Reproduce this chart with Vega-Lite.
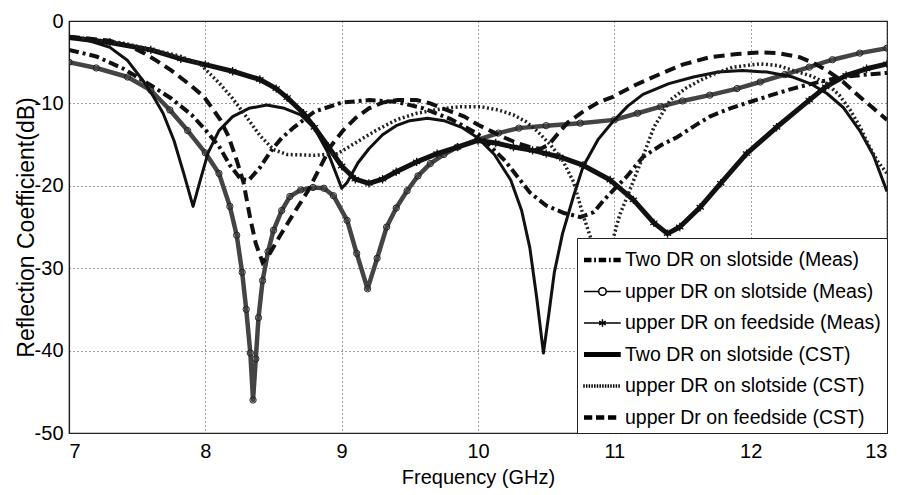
{
  "$schema": "https://vega.github.io/schema/vega-lite/v6.json",
  "width": 818,
  "height": 412,
  "autosize": {"type": "none"},
  "padding": {"left": 69, "top": 21, "right": 14, "bottom": 62},
  "background": "white",
  "config": {
    "font": "Liberation Sans",
    "view": {"stroke": "#222", "strokeWidth": 1.2},
    "axis": {
      "labelFont": "Liberation Sans",
      "titleFont": "Liberation Sans",
      "labelFontSize": 20,
      "titleFontSize": 20,
      "titleFontWeight": "normal",
      "labelColor": "black",
      "titleColor": "black",
      "grid": true,
      "gridColor": "#111",
      "gridDash": [1, 3],
      "gridOpacity": 0.85,
      "domainColor": "#222",
      "domainWidth": 1.2,
      "ticks": false
    }
  },
  "data": {
    "values": [
      {"s": "Two DR on slotside (Meas)", "f": 7.0, "db": -3.5},
      {"s": "Two DR on slotside (Meas)", "f": 7.2, "db": -4.3},
      {"s": "Two DR on slotside (Meas)", "f": 7.4, "db": -5.8},
      {"s": "Two DR on slotside (Meas)", "f": 7.6, "db": -7.8},
      {"s": "Two DR on slotside (Meas)", "f": 7.75, "db": -9.4},
      {"s": "Two DR on slotside (Meas)", "f": 7.9, "db": -11.4},
      {"s": "Two DR on slotside (Meas)", "f": 8.0, "db": -13.2},
      {"s": "Two DR on slotside (Meas)", "f": 8.1, "db": -15.2},
      {"s": "Two DR on slotside (Meas)", "f": 8.18, "db": -17.5},
      {"s": "Two DR on slotside (Meas)", "f": 8.26, "db": -19.2},
      {"s": "Two DR on slotside (Meas)", "f": 8.32, "db": -19.3},
      {"s": "Two DR on slotside (Meas)", "f": 8.4, "db": -17.8},
      {"s": "Two DR on slotside (Meas)", "f": 8.48, "db": -15.8},
      {"s": "Two DR on slotside (Meas)", "f": 8.56, "db": -14.2},
      {"s": "Two DR on slotside (Meas)", "f": 8.65, "db": -12.9},
      {"s": "Two DR on slotside (Meas)", "f": 8.8, "db": -11.0},
      {"s": "Two DR on slotside (Meas)", "f": 9.0, "db": -9.9},
      {"s": "Two DR on slotside (Meas)", "f": 9.2, "db": -9.6},
      {"s": "Two DR on slotside (Meas)", "f": 9.4, "db": -9.8},
      {"s": "Two DR on slotside (Meas)", "f": 9.6, "db": -10.6},
      {"s": "Two DR on slotside (Meas)", "f": 9.8, "db": -11.9},
      {"s": "Two DR on slotside (Meas)", "f": 10.0, "db": -13.7},
      {"s": "Two DR on slotside (Meas)", "f": 10.2, "db": -17.0},
      {"s": "Two DR on slotside (Meas)", "f": 10.38, "db": -20.8},
      {"s": "Two DR on slotside (Meas)", "f": 10.5, "db": -22.4},
      {"s": "Two DR on slotside (Meas)", "f": 10.63, "db": -23.3},
      {"s": "Two DR on slotside (Meas)", "f": 10.75, "db": -23.8},
      {"s": "Two DR on slotside (Meas)", "f": 10.85, "db": -23.2},
      {"s": "Two DR on slotside (Meas)", "f": 10.92, "db": -21.8},
      {"s": "Two DR on slotside (Meas)", "f": 11.0, "db": -20.4},
      {"s": "Two DR on slotside (Meas)", "f": 11.09, "db": -18.9},
      {"s": "Two DR on slotside (Meas)", "f": 11.21, "db": -16.5},
      {"s": "Two DR on slotside (Meas)", "f": 11.35, "db": -15.0},
      {"s": "Two DR on slotside (Meas)", "f": 11.46, "db": -14.1},
      {"s": "Two DR on slotside (Meas)", "f": 11.6, "db": -12.6},
      {"s": "Two DR on slotside (Meas)", "f": 11.7, "db": -11.6},
      {"s": "Two DR on slotside (Meas)", "f": 11.85, "db": -10.6},
      {"s": "Two DR on slotside (Meas)", "f": 12.0, "db": -9.8},
      {"s": "Two DR on slotside (Meas)", "f": 12.15, "db": -9.0},
      {"s": "Two DR on slotside (Meas)", "f": 12.31, "db": -8.2},
      {"s": "Two DR on slotside (Meas)", "f": 12.5, "db": -7.4},
      {"s": "Two DR on slotside (Meas)", "f": 12.67, "db": -6.8},
      {"s": "Two DR on slotside (Meas)", "f": 12.85, "db": -6.5},
      {"s": "Two DR on slotside (Meas)", "f": 13.0, "db": -6.3},

      {"s": "upper DR on slotside (Meas)", "f": 7.0, "db": -5.0},
      {"s": "upper DR on slotside (Meas)", "f": 7.2, "db": -5.7},
      {"s": "upper DR on slotside (Meas)", "f": 7.43, "db": -6.8},
      {"s": "upper DR on slotside (Meas)", "f": 7.6, "db": -8.4},
      {"s": "upper DR on slotside (Meas)", "f": 7.74, "db": -10.8},
      {"s": "upper DR on slotside (Meas)", "f": 7.87, "db": -13.3},
      {"s": "upper DR on slotside (Meas)", "f": 8.0, "db": -16.0},
      {"s": "upper DR on slotside (Meas)", "f": 8.1, "db": -18.5},
      {"s": "upper DR on slotside (Meas)", "f": 8.18, "db": -22.5},
      {"s": "upper DR on slotside (Meas)", "f": 8.23, "db": -26.0},
      {"s": "upper DR on slotside (Meas)", "f": 8.27, "db": -30.5},
      {"s": "upper DR on slotside (Meas)", "f": 8.3, "db": -35.0},
      {"s": "upper DR on slotside (Meas)", "f": 8.33, "db": -40.3},
      {"s": "upper DR on slotside (Meas)", "f": 8.35, "db": -46.0},
      {"s": "upper DR on slotside (Meas)", "f": 8.37, "db": -41.0},
      {"s": "upper DR on slotside (Meas)", "f": 8.39, "db": -36.0},
      {"s": "upper DR on slotside (Meas)", "f": 8.42, "db": -31.5},
      {"s": "upper DR on slotside (Meas)", "f": 8.46, "db": -28.0},
      {"s": "upper DR on slotside (Meas)", "f": 8.5, "db": -25.4},
      {"s": "upper DR on slotside (Meas)", "f": 8.56, "db": -23.0},
      {"s": "upper DR on slotside (Meas)", "f": 8.62, "db": -21.3},
      {"s": "upper DR on slotside (Meas)", "f": 8.7, "db": -20.5},
      {"s": "upper DR on slotside (Meas)", "f": 8.79, "db": -20.2},
      {"s": "upper DR on slotside (Meas)", "f": 8.87, "db": -20.3},
      {"s": "upper DR on slotside (Meas)", "f": 8.94, "db": -21.2},
      {"s": "upper DR on slotside (Meas)", "f": 9.04, "db": -24.2},
      {"s": "upper DR on slotside (Meas)", "f": 9.11, "db": -28.2},
      {"s": "upper DR on slotside (Meas)", "f": 9.19, "db": -32.5},
      {"s": "upper DR on slotside (Meas)", "f": 9.26, "db": -28.8},
      {"s": "upper DR on slotside (Meas)", "f": 9.33, "db": -25.0},
      {"s": "upper DR on slotside (Meas)", "f": 9.4, "db": -22.7},
      {"s": "upper DR on slotside (Meas)", "f": 9.48, "db": -20.6},
      {"s": "upper DR on slotside (Meas)", "f": 9.56, "db": -18.8},
      {"s": "upper DR on slotside (Meas)", "f": 9.65, "db": -17.3},
      {"s": "upper DR on slotside (Meas)", "f": 9.75, "db": -16.2},
      {"s": "upper DR on slotside (Meas)", "f": 9.85, "db": -15.3},
      {"s": "upper DR on slotside (Meas)", "f": 10.0, "db": -14.4},
      {"s": "upper DR on slotside (Meas)", "f": 10.15, "db": -13.6},
      {"s": "upper DR on slotside (Meas)", "f": 10.3, "db": -13.0},
      {"s": "upper DR on slotside (Meas)", "f": 10.5, "db": -12.7},
      {"s": "upper DR on slotside (Meas)", "f": 10.75, "db": -12.4},
      {"s": "upper DR on slotside (Meas)", "f": 11.0, "db": -12.0},
      {"s": "upper DR on slotside (Meas)", "f": 11.17, "db": -11.2},
      {"s": "upper DR on slotside (Meas)", "f": 11.34, "db": -10.4},
      {"s": "upper DR on slotside (Meas)", "f": 11.5, "db": -9.7},
      {"s": "upper DR on slotside (Meas)", "f": 11.7, "db": -9.0},
      {"s": "upper DR on slotside (Meas)", "f": 11.9, "db": -8.2},
      {"s": "upper DR on slotside (Meas)", "f": 12.07, "db": -7.4},
      {"s": "upper DR on slotside (Meas)", "f": 12.25, "db": -6.5},
      {"s": "upper DR on slotside (Meas)", "f": 12.43, "db": -5.6},
      {"s": "upper DR on slotside (Meas)", "f": 12.6, "db": -4.7},
      {"s": "upper DR on slotside (Meas)", "f": 12.8, "db": -3.9},
      {"s": "upper DR on slotside (Meas)", "f": 13.0, "db": -3.3},

      {"s": "upper DR on feedside (Meas)", "f": 7.0, "db": -2.0},
      {"s": "upper DR on feedside (Meas)", "f": 7.3, "db": -2.6},
      {"s": "upper DR on feedside (Meas)", "f": 7.6, "db": -3.5},
      {"s": "upper DR on feedside (Meas)", "f": 7.82, "db": -4.6},
      {"s": "upper DR on feedside (Meas)", "f": 8.0, "db": -5.3},
      {"s": "upper DR on feedside (Meas)", "f": 8.2, "db": -6.1},
      {"s": "upper DR on feedside (Meas)", "f": 8.4, "db": -7.1},
      {"s": "upper DR on feedside (Meas)", "f": 8.52, "db": -8.2},
      {"s": "upper DR on feedside (Meas)", "f": 8.6, "db": -9.3},
      {"s": "upper DR on feedside (Meas)", "f": 8.72, "db": -11.2},
      {"s": "upper DR on feedside (Meas)", "f": 8.8, "db": -12.9},
      {"s": "upper DR on feedside (Meas)", "f": 8.9, "db": -15.2},
      {"s": "upper DR on feedside (Meas)", "f": 9.0, "db": -17.6},
      {"s": "upper DR on feedside (Meas)", "f": 9.1, "db": -19.2},
      {"s": "upper DR on feedside (Meas)", "f": 9.2, "db": -19.7},
      {"s": "upper DR on feedside (Meas)", "f": 9.3, "db": -19.2},
      {"s": "upper DR on feedside (Meas)", "f": 9.4, "db": -18.3},
      {"s": "upper DR on feedside (Meas)", "f": 9.55, "db": -17.1},
      {"s": "upper DR on feedside (Meas)", "f": 9.7, "db": -16.1},
      {"s": "upper DR on feedside (Meas)", "f": 9.85, "db": -15.3},
      {"s": "upper DR on feedside (Meas)", "f": 10.0, "db": -14.5},
      {"s": "upper DR on feedside (Meas)", "f": 10.13, "db": -14.8},
      {"s": "upper DR on feedside (Meas)", "f": 10.26, "db": -15.3},
      {"s": "upper DR on feedside (Meas)", "f": 10.4, "db": -15.7},
      {"s": "upper DR on feedside (Meas)", "f": 10.5, "db": -16.1},
      {"s": "upper DR on feedside (Meas)", "f": 10.6, "db": -16.5},
      {"s": "upper DR on feedside (Meas)", "f": 10.77, "db": -17.5},
      {"s": "upper DR on feedside (Meas)", "f": 10.97, "db": -19.3},
      {"s": "upper DR on feedside (Meas)", "f": 11.14, "db": -21.7},
      {"s": "upper DR on feedside (Meas)", "f": 11.29, "db": -24.5},
      {"s": "upper DR on feedside (Meas)", "f": 11.39, "db": -25.8},
      {"s": "upper DR on feedside (Meas)", "f": 11.48, "db": -25.0},
      {"s": "upper DR on feedside (Meas)", "f": 11.63, "db": -22.6},
      {"s": "upper DR on feedside (Meas)", "f": 11.78, "db": -19.7},
      {"s": "upper DR on feedside (Meas)", "f": 11.97, "db": -16.1},
      {"s": "upper DR on feedside (Meas)", "f": 12.19, "db": -12.9},
      {"s": "upper DR on feedside (Meas)", "f": 12.43, "db": -9.6},
      {"s": "upper DR on feedside (Meas)", "f": 12.55, "db": -8.0},
      {"s": "upper DR on feedside (Meas)", "f": 12.7, "db": -6.6},
      {"s": "upper DR on feedside (Meas)", "f": 12.85, "db": -5.8},
      {"s": "upper DR on feedside (Meas)", "f": 13.0, "db": -5.2},

      {"s": "Two DR on slotside (CST)", "f": 7.0, "db": -2.0},
      {"s": "Two DR on slotside (CST)", "f": 7.15, "db": -2.4},
      {"s": "Two DR on slotside (CST)", "f": 7.3, "db": -3.2},
      {"s": "Two DR on slotside (CST)", "f": 7.43, "db": -4.8},
      {"s": "Two DR on slotside (CST)", "f": 7.55, "db": -7.4},
      {"s": "Two DR on slotside (CST)", "f": 7.62, "db": -9.2},
      {"s": "Two DR on slotside (CST)", "f": 7.69, "db": -11.2},
      {"s": "Two DR on slotside (CST)", "f": 7.77, "db": -14.5},
      {"s": "Two DR on slotside (CST)", "f": 7.84, "db": -18.4},
      {"s": "Two DR on slotside (CST)", "f": 7.91, "db": -22.5},
      {"s": "Two DR on slotside (CST)", "f": 7.96, "db": -19.5},
      {"s": "Two DR on slotside (CST)", "f": 8.02, "db": -16.0},
      {"s": "Two DR on slotside (CST)", "f": 8.1, "db": -13.3},
      {"s": "Two DR on slotside (CST)", "f": 8.2, "db": -11.6},
      {"s": "Two DR on slotside (CST)", "f": 8.32, "db": -10.6},
      {"s": "Two DR on slotside (CST)", "f": 8.45, "db": -10.2},
      {"s": "Two DR on slotside (CST)", "f": 8.58, "db": -10.6},
      {"s": "Two DR on slotside (CST)", "f": 8.7, "db": -11.4},
      {"s": "Two DR on slotside (CST)", "f": 8.8, "db": -13.0},
      {"s": "Two DR on slotside (CST)", "f": 8.9, "db": -16.0},
      {"s": "Two DR on slotside (CST)", "f": 8.97, "db": -19.0},
      {"s": "Two DR on slotside (CST)", "f": 9.0, "db": -20.3},
      {"s": "Two DR on slotside (CST)", "f": 9.04, "db": -19.6},
      {"s": "Two DR on slotside (CST)", "f": 9.12, "db": -17.2},
      {"s": "Two DR on slotside (CST)", "f": 9.2, "db": -15.5},
      {"s": "Two DR on slotside (CST)", "f": 9.3, "db": -13.8},
      {"s": "Two DR on slotside (CST)", "f": 9.4, "db": -12.7},
      {"s": "Two DR on slotside (CST)", "f": 9.5, "db": -12.1},
      {"s": "Two DR on slotside (CST)", "f": 9.63, "db": -11.8},
      {"s": "Two DR on slotside (CST)", "f": 9.75, "db": -12.1},
      {"s": "Two DR on slotside (CST)", "f": 9.88, "db": -12.9},
      {"s": "Two DR on slotside (CST)", "f": 10.0, "db": -14.2},
      {"s": "Two DR on slotside (CST)", "f": 10.12, "db": -16.2},
      {"s": "Two DR on slotside (CST)", "f": 10.24, "db": -19.3},
      {"s": "Two DR on slotside (CST)", "f": 10.32, "db": -23.0},
      {"s": "Two DR on slotside (CST)", "f": 10.38, "db": -27.5},
      {"s": "Two DR on slotside (CST)", "f": 10.43, "db": -33.5},
      {"s": "Two DR on slotside (CST)", "f": 10.48, "db": -40.3},
      {"s": "Two DR on slotside (CST)", "f": 10.52, "db": -35.5},
      {"s": "Two DR on slotside (CST)", "f": 10.56, "db": -30.5},
      {"s": "Two DR on slotside (CST)", "f": 10.62, "db": -25.8},
      {"s": "Two DR on slotside (CST)", "f": 10.7, "db": -21.3},
      {"s": "Two DR on slotside (CST)", "f": 10.77, "db": -17.7},
      {"s": "Two DR on slotside (CST)", "f": 10.88, "db": -14.4},
      {"s": "Two DR on slotside (CST)", "f": 10.99, "db": -12.2},
      {"s": "Two DR on slotside (CST)", "f": 11.1, "db": -10.3},
      {"s": "Two DR on slotside (CST)", "f": 11.21, "db": -8.9},
      {"s": "Two DR on slotside (CST)", "f": 11.4, "db": -7.6},
      {"s": "Two DR on slotside (CST)", "f": 11.58, "db": -6.8},
      {"s": "Two DR on slotside (CST)", "f": 11.76, "db": -6.2},
      {"s": "Two DR on slotside (CST)", "f": 11.94, "db": -6.0},
      {"s": "Two DR on slotside (CST)", "f": 12.12, "db": -6.2},
      {"s": "Two DR on slotside (CST)", "f": 12.31, "db": -6.8},
      {"s": "Two DR on slotside (CST)", "f": 12.45, "db": -7.7},
      {"s": "Two DR on slotside (CST)", "f": 12.56, "db": -8.8},
      {"s": "Two DR on slotside (CST)", "f": 12.68, "db": -10.5},
      {"s": "Two DR on slotside (CST)", "f": 12.8, "db": -13.3},
      {"s": "Two DR on slotside (CST)", "f": 12.9, "db": -16.3},
      {"s": "Two DR on slotside (CST)", "f": 13.0, "db": -20.7},

      {"s": "upper DR on slotside (CST)", "f": 7.0, "db": -1.9},
      {"s": "upper DR on slotside (CST)", "f": 7.4, "db": -2.7},
      {"s": "upper DR on slotside (CST)", "f": 7.8, "db": -4.2},
      {"s": "upper DR on slotside (CST)", "f": 7.96, "db": -5.2},
      {"s": "upper DR on slotside (CST)", "f": 8.1, "db": -7.5},
      {"s": "upper DR on slotside (CST)", "f": 8.2, "db": -9.4},
      {"s": "upper DR on slotside (CST)", "f": 8.3, "db": -11.6},
      {"s": "upper DR on slotside (CST)", "f": 8.4, "db": -13.9},
      {"s": "upper DR on slotside (CST)", "f": 8.5, "db": -15.6},
      {"s": "upper DR on slotside (CST)", "f": 8.6, "db": -16.2},
      {"s": "upper DR on slotside (CST)", "f": 8.8, "db": -16.3},
      {"s": "upper DR on slotside (CST)", "f": 8.97, "db": -16.1},
      {"s": "upper DR on slotside (CST)", "f": 9.1, "db": -14.8},
      {"s": "upper DR on slotside (CST)", "f": 9.25, "db": -13.3},
      {"s": "upper DR on slotside (CST)", "f": 9.4, "db": -12.0},
      {"s": "upper DR on slotside (CST)", "f": 9.55, "db": -11.2},
      {"s": "upper DR on slotside (CST)", "f": 9.72, "db": -10.7},
      {"s": "upper DR on slotside (CST)", "f": 9.87, "db": -10.4},
      {"s": "upper DR on slotside (CST)", "f": 10.02, "db": -10.4},
      {"s": "upper DR on slotside (CST)", "f": 10.15, "db": -10.8},
      {"s": "upper DR on slotside (CST)", "f": 10.26, "db": -11.4},
      {"s": "upper DR on slotside (CST)", "f": 10.35, "db": -12.2},
      {"s": "upper DR on slotside (CST)", "f": 10.43, "db": -13.3},
      {"s": "upper DR on slotside (CST)", "f": 10.53, "db": -15.0},
      {"s": "upper DR on slotside (CST)", "f": 10.62, "db": -16.9},
      {"s": "upper DR on slotside (CST)", "f": 10.7, "db": -19.5},
      {"s": "upper DR on slotside (CST)", "f": 10.77, "db": -23.5},
      {"s": "upper DR on slotside (CST)", "f": 10.85, "db": -27.5},
      {"s": "upper DR on slotside (CST)", "f": 10.92, "db": -33.0},
      {"s": "upper DR on slotside (CST)", "f": 10.99, "db": -26.5},
      {"s": "upper DR on slotside (CST)", "f": 11.04, "db": -23.5},
      {"s": "upper DR on slotside (CST)", "f": 11.09, "db": -21.5},
      {"s": "upper DR on slotside (CST)", "f": 11.19, "db": -17.3},
      {"s": "upper DR on slotside (CST)", "f": 11.29, "db": -12.9},
      {"s": "upper DR on slotside (CST)", "f": 11.41, "db": -9.6},
      {"s": "upper DR on slotside (CST)", "f": 11.52, "db": -8.2},
      {"s": "upper DR on slotside (CST)", "f": 11.63, "db": -7.2},
      {"s": "upper DR on slotside (CST)", "f": 11.75, "db": -6.3},
      {"s": "upper DR on slotside (CST)", "f": 11.87, "db": -5.6},
      {"s": "upper DR on slotside (CST)", "f": 12.07, "db": -5.2},
      {"s": "upper DR on slotside (CST)", "f": 12.2, "db": -5.4},
      {"s": "upper DR on slotside (CST)", "f": 12.31, "db": -6.0},
      {"s": "upper DR on slotside (CST)", "f": 12.45, "db": -6.7},
      {"s": "upper DR on slotside (CST)", "f": 12.56, "db": -7.6},
      {"s": "upper DR on slotside (CST)", "f": 12.65, "db": -9.0},
      {"s": "upper DR on slotside (CST)", "f": 12.73, "db": -10.8},
      {"s": "upper DR on slotside (CST)", "f": 12.8, "db": -12.8},
      {"s": "upper DR on slotside (CST)", "f": 12.87, "db": -15.2},
      {"s": "upper DR on slotside (CST)", "f": 12.93, "db": -17.0},
      {"s": "upper DR on slotside (CST)", "f": 13.0, "db": -18.5},

      {"s": "upper Dr on feedside (CST)", "f": 7.0, "db": -1.9},
      {"s": "upper Dr on feedside (CST)", "f": 7.3, "db": -2.4},
      {"s": "upper Dr on feedside (CST)", "f": 7.45, "db": -3.1},
      {"s": "upper Dr on feedside (CST)", "f": 7.55, "db": -3.9},
      {"s": "upper Dr on feedside (CST)", "f": 7.65, "db": -4.9},
      {"s": "upper Dr on feedside (CST)", "f": 7.75, "db": -6.0},
      {"s": "upper Dr on feedside (CST)", "f": 7.9, "db": -7.9},
      {"s": "upper Dr on feedside (CST)", "f": 7.99, "db": -9.2},
      {"s": "upper Dr on feedside (CST)", "f": 8.06, "db": -10.8},
      {"s": "upper Dr on feedside (CST)", "f": 8.11, "db": -12.0},
      {"s": "upper Dr on feedside (CST)", "f": 8.17, "db": -14.0},
      {"s": "upper Dr on feedside (CST)", "f": 8.23, "db": -16.9},
      {"s": "upper Dr on feedside (CST)", "f": 8.28, "db": -19.6},
      {"s": "upper Dr on feedside (CST)", "f": 8.33, "db": -24.0},
      {"s": "upper Dr on feedside (CST)", "f": 8.37, "db": -27.0},
      {"s": "upper Dr on feedside (CST)", "f": 8.42, "db": -29.3},
      {"s": "upper Dr on feedside (CST)", "f": 8.47, "db": -28.3},
      {"s": "upper Dr on feedside (CST)", "f": 8.55, "db": -26.0},
      {"s": "upper Dr on feedside (CST)", "f": 8.65, "db": -23.3},
      {"s": "upper Dr on feedside (CST)", "f": 8.75, "db": -20.7},
      {"s": "upper Dr on feedside (CST)", "f": 8.85, "db": -17.5},
      {"s": "upper Dr on feedside (CST)", "f": 8.92, "db": -15.2},
      {"s": "upper Dr on feedside (CST)", "f": 9.01, "db": -13.3},
      {"s": "upper Dr on feedside (CST)", "f": 9.1, "db": -11.8},
      {"s": "upper Dr on feedside (CST)", "f": 9.2, "db": -10.6},
      {"s": "upper Dr on feedside (CST)", "f": 9.3, "db": -9.9},
      {"s": "upper Dr on feedside (CST)", "f": 9.41, "db": -9.6},
      {"s": "upper Dr on feedside (CST)", "f": 9.55, "db": -9.6},
      {"s": "upper Dr on feedside (CST)", "f": 9.65, "db": -10.0},
      {"s": "upper Dr on feedside (CST)", "f": 9.77, "db": -10.8},
      {"s": "upper Dr on feedside (CST)", "f": 9.9, "db": -11.6},
      {"s": "upper Dr on feedside (CST)", "f": 10.0, "db": -12.6},
      {"s": "upper Dr on feedside (CST)", "f": 10.1, "db": -13.4},
      {"s": "upper Dr on feedside (CST)", "f": 10.2, "db": -14.2},
      {"s": "upper Dr on feedside (CST)", "f": 10.3, "db": -14.9},
      {"s": "upper Dr on feedside (CST)", "f": 10.4, "db": -15.4},
      {"s": "upper Dr on feedside (CST)", "f": 10.46, "db": -15.5},
      {"s": "upper Dr on feedside (CST)", "f": 10.52, "db": -15.0},
      {"s": "upper Dr on feedside (CST)", "f": 10.58, "db": -13.8},
      {"s": "upper Dr on feedside (CST)", "f": 10.66, "db": -12.3},
      {"s": "upper Dr on feedside (CST)", "f": 10.77, "db": -11.0},
      {"s": "upper Dr on feedside (CST)", "f": 10.88, "db": -9.9},
      {"s": "upper Dr on feedside (CST)", "f": 10.99, "db": -9.2},
      {"s": "upper Dr on feedside (CST)", "f": 11.15, "db": -7.8},
      {"s": "upper Dr on feedside (CST)", "f": 11.34, "db": -6.4},
      {"s": "upper Dr on feedside (CST)", "f": 11.5, "db": -5.3},
      {"s": "upper Dr on feedside (CST)", "f": 11.7, "db": -4.4},
      {"s": "upper Dr on feedside (CST)", "f": 11.9, "db": -4.0},
      {"s": "upper Dr on feedside (CST)", "f": 12.07, "db": -3.8},
      {"s": "upper Dr on feedside (CST)", "f": 12.2, "db": -3.9},
      {"s": "upper Dr on feedside (CST)", "f": 12.36, "db": -4.4},
      {"s": "upper Dr on feedside (CST)", "f": 12.46, "db": -5.1},
      {"s": "upper Dr on feedside (CST)", "f": 12.56, "db": -6.0},
      {"s": "upper Dr on feedside (CST)", "f": 12.68, "db": -7.4},
      {"s": "upper Dr on feedside (CST)", "f": 12.8, "db": -9.2},
      {"s": "upper Dr on feedside (CST)", "f": 12.9, "db": -10.6},
      {"s": "upper Dr on feedside (CST)", "f": 13.0, "db": -12.0}
    ]
  },
  "encoding": {
    "x": {
      "field": "f", "type": "quantitative",
      "scale": {"domain": [7, 13], "nice": false},
      "axis": {"title": "Frequency (GHz)", "values": [7, 8, 9, 10, 11, 12, 13], "labelPadding": 8, "titlePadding": 6}
    },
    "y": {
      "field": "db", "type": "quantitative",
      "scale": {"domain": [-50, 0], "nice": false},
      "axis": {"title": "Reflection Coefficient(dB)", "values": [-50, -40, -30, -20, -10, 0], "labelExpr": "'' + datum.value", "labelPadding": 6, "titlePadding": -4, "titleFontSize": 23}
    }
  },
  "layer": [
    {
      "transform": [{"filter": "datum.s == 'upper DR on slotside (Meas)'"}],
      "mark": {"type": "line", "clip": true, "color": "#444444", "strokeWidth": 4.5, "strokeJoin": "round"}
    },
    {
      "transform": [{"filter": "datum.s == 'upper DR on slotside (Meas)'"}],
      "mark": {"type": "point", "shape": "circle", "size": 40, "filled": false, "stroke": "#222222", "strokeWidth": 1, "opacity": 1, "clip": true}
    },
    {
      "transform": [{"filter": "datum.s == 'upper DR on feedside (Meas)'"}],
      "mark": {"type": "line", "clip": true, "color": "#111111", "strokeWidth": 5, "strokeJoin": "round"}
    },
    {
      "transform": [{"filter": "datum.s == 'upper DR on feedside (Meas)'"}],
      "mark": {"type": "point", "shape": "M0,-1V1M-0.87,-0.5L0.87,0.5M-0.87,0.5L0.87,-0.5", "size": 70, "filled": false, "stroke": "#111111", "strokeWidth": 1.3, "opacity": 1, "clip": true}
    },
    {
      "transform": [{"filter": "datum.s == 'Two DR on slotside (Meas)'"}],
      "mark": {"type": "line", "clip": true, "color": "#111111", "strokeWidth": 4, "strokeDash": [10, 4, 3, 4], "strokeCap": "butt"}
    },
    {
      "transform": [{"filter": "datum.s == 'Two DR on slotside (CST)'"}],
      "mark": {"type": "line", "clip": true, "color": "#111111", "strokeWidth": 3, "strokeJoin": "round"}
    },
    {
      "transform": [{"filter": "datum.s == 'upper DR on slotside (CST)'"}],
      "mark": {"type": "line", "clip": true, "color": "#222222", "strokeWidth": 3.5, "strokeDash": [2, 2.5], "strokeCap": "butt"}
    },
    {
      "transform": [{"filter": "datum.s == 'upper Dr on feedside (CST)'"}],
      "mark": {"type": "line", "clip": true, "color": "#111111", "strokeWidth": 4, "strokeDash": [11, 6], "strokeCap": "butt"}
    },
    {
      "transform": [{"filter": "false"}],
      "mark": {"type": "point", "filled": false, "color": "black", "opacity": 1, "strokeWidth": 1.5},
      "encoding": {
        "shape": {
          "field": "s", "type": "nominal",
          "scale": {
            "domain": ["Two DR on slotside (Meas)", "upper DR on slotside (Meas)", "upper DR on feedside (Meas)", "Two DR on slotside (CST)", "upper DR on slotside (CST)", "upper Dr on feedside (CST)"],
            "range": [
              "M-1,-0.1H-0.5M-1,0H-0.5M-1,0.1H-0.5M-0.32,-0.1H-0.2M-0.32,0H-0.2M-0.32,0.1H-0.2M-0.02,-0.1H0.48M-0.02,0H0.48M-0.02,0.1H0.48M0.66,-0.1H0.78M0.66,0H0.78M0.66,0.1H0.78M0.96,-0.1H1.45M0.96,0H1.45M0.96,0.1H1.45",
              "M-1,0H-0.02M0.48,0H1.45M0.48,0A0.25,0.25 0 1 0 -0.02,0A0.25,0.25 0 1 0 0.48,0",
              "M-1,0H1.45M0.23,-0.25V0.25M0.01,-0.13L0.45,0.13M0.01,0.13L0.45,-0.13",
              "M-1,-0.12H1.45M-1,-0.04H1.45M-1,0.04H1.45M-1,0.12H1.45",
              "M-1,-0.12V0.12M-0.82,-0.12V0.12M-0.64,-0.12V0.12M-0.46,-0.12V0.12M-0.28,-0.12V0.12M-0.1,-0.12V0.12M0.08,-0.12V0.12M0.26,-0.12V0.12M0.44,-0.12V0.12M0.62,-0.12V0.12M0.8,-0.12V0.12M0.98,-0.12V0.12M1.16,-0.12V0.12M1.34,-0.12V0.12",
              "M-1,-0.1H-0.45M-1,0H-0.45M-1,0.1H-0.45M-0.2,-0.1H0.35M-0.2,0H0.35M-0.2,0.1H0.35M0.6,-0.1H1.15M0.6,0H1.15M0.6,0.1H1.15"
            ]
          },
          "legend": {
            "title": null, "orient": "bottom-right", "offset": 0, "padding": 6,
            "fillColor": "white", "strokeColor": "#222222",
            "labelFont": "Liberation Sans", "labelFontSize": 19.5, "labelColor": "black", "labelLimit": 400,
            "labelOffset": 10, "rowPadding": 5.5, "symbolSize": 900, "symbolStrokeWidth": 1.5,
            "symbolStrokeColor": "black", "symbolFillColor": "transparent"
          }
        }
      }
    }
  ]
}
